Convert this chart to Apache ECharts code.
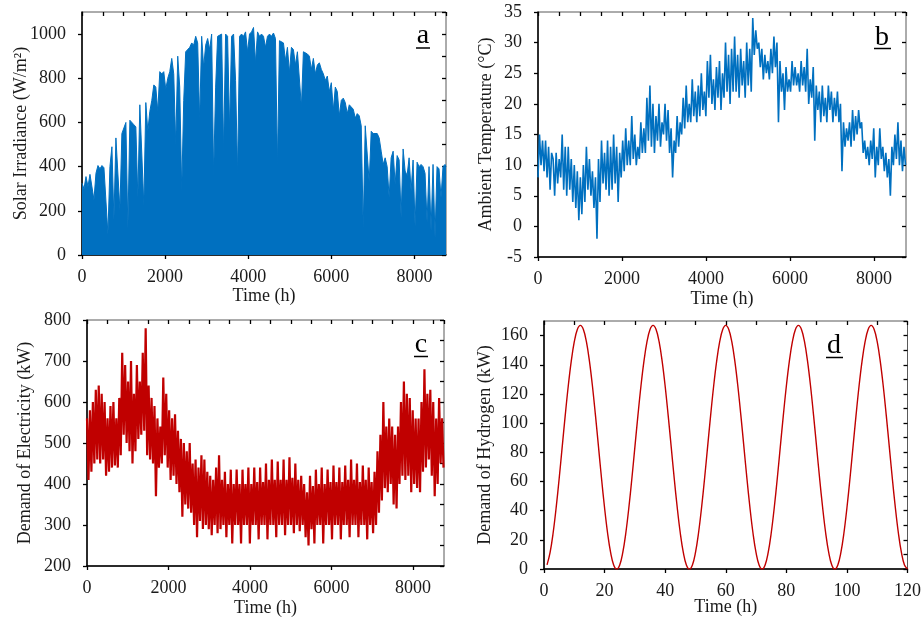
<!DOCTYPE html>
<html><head><meta charset="utf-8">
<script src="https://cdn.jsdelivr.net/npm/echarts@6/dist/echarts.min.js"></script>
<style>html,body{margin:0;padding:0;background:#fff}#chart{width:924px;height:619px}</style>
</head><body><div id="chart"></div>
<script>
// ---------- data ----------
// (a) Daily peak solar irradiance envelope, one value every 48 h (last value at 8760 h)
const solarStepHours = 48;
const solarPeak = [
325,300,355,310,365,370,250,370,405,390,
405,395,400,95,400,490,160,530,525,205,
550,555,600,120,610,610,590,580,260,680,
680,225,690,560,650,700,770,760,650,830,
820,830,750,800,830,890,820,500,900,760,
290,700,920,920,940,960,950,990,960,610,
990,850,950,980,930,1000,360,760,990,990,
1000,470,1000,990,570,990,1000,790,370,990,
1000,990,1010,920,1000,1010,1030,870,1010,990,
1000,990,940,990,1000,990,1005,980,410,970,
970,960,880,940,825,940,930,860,920,920,
670,920,920,910,900,840,890,820,860,870,
840,820,790,810,740,780,655,760,740,630,
700,710,690,640,680,670,660,620,640,630,
585,125,585,590,330,560,550,555,550,530,
470,410,440,400,260,440,470,320,450,430,
170,480,380,360,440,290,430,130,420,400,
410,400,370,150,400,110,410,80,400,390,
260,400,410,400
];
// (b) Ambient temperature (°C), alternating warm/cool readings every 36 h
const tempStepHours = 36;
const tempSeries = [
8,15,10,14,9,14,8,13,6,12,
11,5,12,7,11,8,15,6,13,5,
13,6,11,4,10,3,9,1,8,2,
10,4,13,6,11,5,9,3,8,-2,
11,4,14,7,12,6,14,5,13,6,
15,7,13,4,12,8,14,9,16,10,
14,10,18,11,15,10,13,11,17,12,
16,12,21,14,23,13,20,12,18,14,
20,13,17,15,20,14,19,12,16,8,
14,12,18,13,17,15,21,16,23,17,
20,17,24,18,22,17,23,18,25,19,
22,18,27,21,28,20,24,19,26,21,
27,19,25,21,30,22,28,20,29,22,
31,22,28,21,29,23,27,21,30,23,
29,22,34,28,32,29,30,26,29,24,
28,25,27,24,29,25,31,26,30,17,
27,22,25,19,26,22,24,22,27,23,
26,23,25,22,27,23,26,22,29,20,
24,21,26,14,23,19,22,17,23,18,
21,17,23,19,22,17,21,18,22,17,
20,9,17,13,16,14,17,13,19,14,
18,15,19,16,17,12,14,11,13,10,
14,11,16,8,13,10,16,11,13,9,
12,8,11,5,13,10,15,11,17,10,
14,9,13,10
];
// (c) Electricity demand (kW), alternating high/low readings every 36 h
const elecStepHours = 36;
const elecSeries = [
560,410,580,430,600,450,630,460,640,450,
620,460,600,420,560,430,590,440,600,445,
560,440,610,470,720,520,690,500,650,480,
700,450,620,480,690,510,650,520,720,530,
780,470,640,460,610,450,590,370,560,440,
540,450,660,470,620,440,580,410,560,420,
570,400,530,380,510,320,500,350,480,340,
500,330,450,300,460,270,440,310,470,290,
460,300,430,290,420,275,410,300,440,280,
470,290,410,300,430,270,400,300,435,255,
400,300,435,300,400,255,435,300,400,300,
440,255,400,300,440,300,405,265,440,300,
405,300,450,265,410,300,460,300,410,270,
455,300,410,300,460,275,410,300,465,300,
415,280,450,300,410,285,420,300,400,270,
380,250,420,290,395,255,435,300,400,300,
440,255,400,300,435,300,405,265,445,300,
405,300,440,265,405,300,445,300,410,270,
460,300,410,300,450,270,405,300,445,300,
410,265,440,300,405,280,430,300,480,330,
520,360,600,390,540,380,560,400,540,350,
520,340,540,400,600,420,650,410,620,420,
610,380,580,400,560,390,560,380,600,430,
680,440,620,460,630,420,600,370,560,400,
610,450,560,440
];
// (d) Hydrogen demand, hourly from t = 1 h to 120 h
const hydrogenDemand = [
2.8,11.2,24.5,41.8,61.9,83.5,105.1,125.3,142.5,155.8,164.2,167,164.2,155.8,142.5,125.3,105.1,83.5,61.9,41.8,24.5,11.2,2.8,0,
2.8,11.2,24.5,41.8,61.9,83.5,105.1,125.3,142.5,155.8,164.2,167,164.2,155.8,142.5,125.3,105.1,83.5,61.9,41.8,24.5,11.2,2.8,0,
2.8,11.2,24.5,41.8,61.9,83.5,105.1,125.3,142.5,155.8,164.2,167,164.2,155.8,142.5,125.3,105.1,83.5,61.9,41.8,24.5,11.2,2.8,0,
2.8,11.2,24.5,41.8,61.9,83.5,105.1,125.3,142.5,155.8,164.2,167,164.2,155.8,142.5,125.3,105.1,83.5,61.9,41.8,24.5,11.2,2.8,0,
2.8,11.2,24.5,41.8,61.9,83.5,105.1,125.3,142.5,155.8,164.2,167,164.2,155.8,142.5,125.3,105.1,83.5,61.9,41.8,24.5,11.2,2.8,0
];
// tick labels
const yearTicks = [0,2000,4000,6000,8000];
const hourTicks = [0,20,40,60,80,100,120];
const solarTicks = [0,200,400,600,800,1000];
const tempTicks = [-5,0,5,10,15,20,25,30,35];
const elecTicks = [200,300,400,500,600,700,800];
const hydroTicks = [0,20,40,60,80,100,120,140,160];
const panelLetters = ['a','b','c','d'];

// ---------- build ----------
const YEAR_END = 8760;
const solarData = solarPeak.map((v,i)=>[Math.min(i*solarStepHours, YEAR_END), v]);
const tempData = tempSeries.map((v,i)=>[i*tempStepHours, v]);
const elecData = elecSeries.map((v,i)=>[i*elecStepHours, v]);
const hydroData = hydrogenDemand.map((v,i)=>[i+1, v]);

const FONT = 'Liberation Serif';
const TXT = '#1a1a1a';
const fmt = v => String(v);
const grids = [
  {left:82, top:12, width:364, height:243},
  {left:538, top:12, width:368, height:245},
  {left:87, top:320, width:357, height:246},
  {left:544, top:321, width:365, height:248}
];
function xAxes(g, max, major, minor, ticks, gap){
  return [{
    type:'value', gridIndex:g, min:0, max:max, interval:major,
    axisLine:{show:true, onZero:false, lineStyle:{color:'#000', width:1.5}},
    axisTick:{show:true, inside:false, length:4, customValues:ticks, lineStyle:{color:'#000', width:1.3}},
    axisLabel:{customValues:ticks, formatter:fmt, margin:13, fontFamily:FONT, fontSize:18, color:TXT},
    splitLine:{show:false},
    name:'Time (h)', nameLocation:'middle', nameGap:gap, nameMoveOverlap:false,
    nameTextStyle:{fontFamily:FONT, fontSize:18, color:TXT}
  },{
    type:'value', gridIndex:g, min:0, max:max, interval:minor,
    axisLine:{show:false, onZero:false}, axisLabel:{show:false}, splitLine:{show:false},
    axisTick:{show:true, inside:true, length:4, lineStyle:{color:'#000', width:1.3}}
  }];
}
function yAxes(g, min, max, major, minor, ticks, name, gap){
  return [{
    type:'value', gridIndex:g, min:min, max:max, interval:major,
    axisLine:{show:true, onZero:false, lineStyle:{color:'#000', width:1.5}},
    axisTick:{show:true, inside:false, length:4, customValues:ticks, lineStyle:{color:'#000', width:1.3}},
    axisLabel:{customValues:ticks, formatter:fmt, margin:16, fontFamily:FONT, fontSize:18, color:TXT},
    splitLine:{show:false},
    name:name, nameLocation:'middle', nameGap:gap, nameMoveOverlap:false,
    nameTextStyle:{fontFamily:FONT, fontSize:18, color:TXT}
  },{
    type:'value', gridIndex:g, min:min, max:max, interval:minor,
    axisLine:{show:false, onZero:false}, axisLabel:{show:false}, splitLine:{show:false},
    axisTick:{show:true, inside:true, length:4, lineStyle:{color:'#000', width:1.3}}
  }];
}
const xAxis = [].concat(
  xAxes(0, YEAR_END, 2000, 500, yearTicks, 32),
  xAxes(1, YEAR_END, 2000, 500, yearTicks, 33),
  xAxes(2, YEAR_END, 2000, 500, yearTicks, 33),
  xAxes(3, 120, 20, 10, hourTicks, 29)
);
const yAxis = [].concat(
  yAxes(0, 0, 1100, 200, 100, solarTicks, 'Solar Irradiance (W/m\u00B2)', 52),
  yAxes(1, -5, 35, 5, 5, tempTicks, 'Ambient Temperature (\u00B0C)', 43),
  yAxes(2, 200, 800, 100, 50, elecTicks, 'Demand of Electricity (kW)', 53),
  yAxes(3, 0, 170, 20, 10, hydroTicks, 'Demand of Hydrogen (kW)', 50)
);
const series = [
  {type:'line', xAxisIndex:0, yAxisIndex:0, data:solarData, symbol:'none',
   lineStyle:{color:'#0070C0', width:1}, areaStyle:{color:'#0070C0', opacity:1}},
  {type:'line', xAxisIndex:2, yAxisIndex:2, data:tempData, symbol:'none',
   lineStyle:{color:'#0070C0', width:1.6}},
  {type:'line', xAxisIndex:4, yAxisIndex:4, data:elecData, symbol:'none',
   lineStyle:{color:'#C00000', width:2.2}},
  {type:'line', xAxisIndex:6, yAxisIndex:6, data:hydroData, symbol:'none', smooth:0.4,
   lineStyle:{color:'#C00000', width:1.4}}
];
const letterPos = [[423,36],[882,38],[421,345],[834,346]];
const underline = [[416,48,430],[874,48.5,891],[414,356.5,428],[826,357.5,843]];
const graphic = [];
panelLetters.forEach((t,i)=>{
  graphic.push({type:'text', x:letterPos[i][0], y:letterPos[i][1],
    style:{text:t, fontFamily:FONT, fontSize:28, fill:'#000', align:'center', verticalAlign:'middle'}});
  graphic.push({type:'line', shape:{x1:underline[i][0], y1:underline[i][1], x2:underline[i][2], y2:underline[i][1]},
    style:{stroke:'#000', lineWidth:1.5}});
});
const chart = echarts.init(document.getElementById('chart'), null, {renderer:'canvas'});
chart.setOption({
  animation:false,
  grid: grids.map(g=>Object.assign({show:true, borderColor:'#595959', borderWidth:1, backgroundColor:'transparent'}, g)),
  xAxis, yAxis, series, graphic
});
</script></body></html>
